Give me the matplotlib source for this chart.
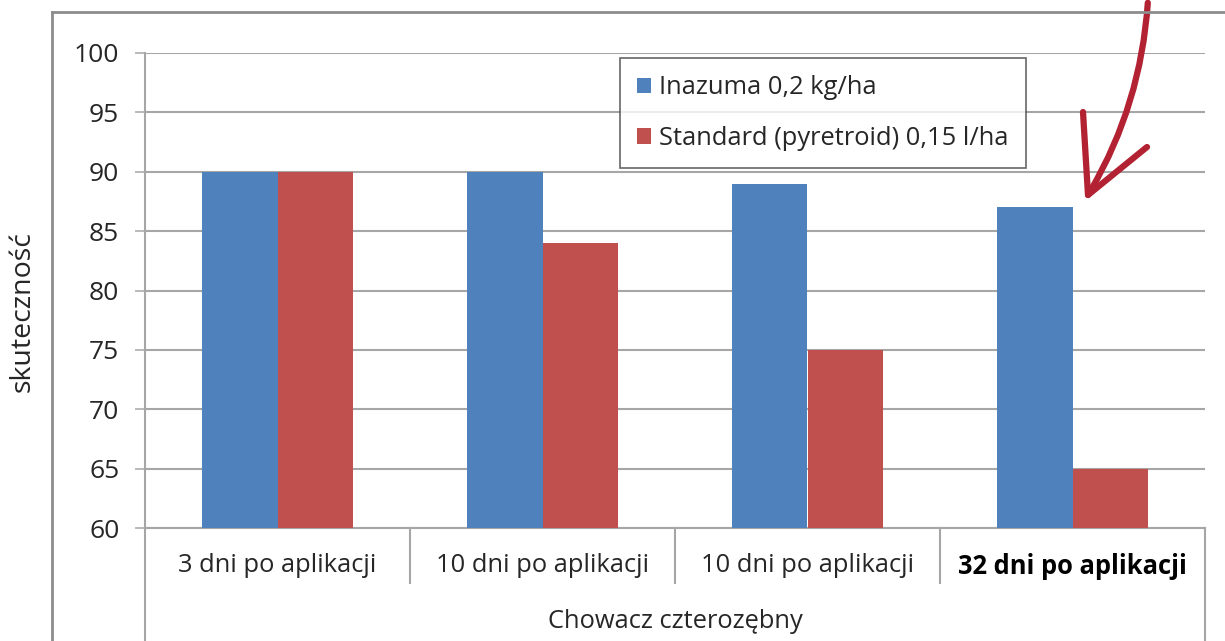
import numpy as np
import matplotlib.pyplot as plt
from matplotlib.lines import Line2D
from matplotlib.patches import FancyArrowPatch
import matplotlib.transforms as mtransforms

plt.rcParams['font.family'] = ['Open Sans', 'DejaVu Sans']

# dane
categories = ["3 dni po aplikacji", "10 dni po aplikacji", "10 dni po aplikacji", "32 dni po aplikacji"]
group_label = "Chowacz czterozębny"
inazuma = [90, 90, 89, 87]
standard = [90, 84, 75, 65]
series_names = ["Inazuma 0,2 kg/ha", "Standard (pyretroid) 0,15 l/ha"]
yticks = [60, 65, 70, 75, 80, 85, 90, 95, 100]

blue = "#4F81BD"
red = "#C0504D"
grid_col = "#A6A6A6"
text_col = "#262626"

W, H = 1225, 641
fig = plt.figure(figsize=(W / 100, H / 100), dpi=100)
ax = fig.add_axes([145 / W, 1 - 528 / H, (1205 - 145) / W, (528 - 53) / H])

x = np.arange(len(categories))
bw = 0.285
ax.bar(x - bw / 2, inazuma, bw, color=blue, label=series_names[0], zorder=3)
ax.bar(x + bw / 2, standard, bw, color=red, label=series_names[1], zorder=3)

ax.set_xlim(-0.5, len(categories) - 0.5)
ax.set_ylim(60, 100)
ax.set_yticks(yticks)
ax.tick_params(axis='y', length=7.5, width=1.1, color=grid_col, labelsize=19,
               labelcolor=text_col, pad=11)
ax.yaxis.grid(True, color=grid_col, linewidth=1.5, zorder=0)
ax.set_axisbelow(True)

ax.set_xticks(x)
ax.set_xticklabels(categories, fontsize=18.4, color=text_col)
ax.get_xticklabels()[-1].set_fontweight('bold')
ax.get_xticklabels()[-1].set_color('black')
ax.tick_params(axis='x', length=0, pad=18)

for s in ['top', 'right']:
    ax.spines[s].set_visible(False)
ax.spines['left'].set_color(grid_col)
ax.spines['bottom'].set_color(grid_col)
ax.spines['left'].set_linewidth(1.5)
ax.spines['bottom'].set_linewidth(1.5)

# separatory kategorii
trans = mtransforms.blended_transform_factory(ax.transData, ax.transAxes)
for b in np.arange(0.5, len(categories) - 1, 1.0):
    ax.add_line(Line2D([b, b], [0, -55 / 475], transform=trans, color=grid_col,
                       linewidth=1.5, clip_on=False))
ax.add_line(Line2D([-0.5, -0.5], [0, -120 / 475], transform=trans, color=grid_col,
                   linewidth=1.5, clip_on=False))
ax.add_line(Line2D([len(categories) - 0.5] * 2, [0, -120 / 475], transform=trans,
                   color=grid_col, linewidth=1.5, clip_on=False))

ax.text(0.5, -94 / 475, group_label, transform=ax.transAxes, ha='center', va='center',
        fontsize=18.4, color=text_col)

ax.set_ylabel("skuteczność", fontsize=20.5, color=text_col)
ax.yaxis.set_label_coords(-0.102, 0.455)

# ramka wykresu
fig.add_artist(Line2D([52 / W, 52 / W], [0, 1 - 12 / H], color="#8C8C8C", linewidth=2))
fig.add_artist(Line2D([52 / W, 1], [1 - 12 / H, 1 - 12 / H], color="#8C8C8C", linewidth=2))

leg = ax.legend(loc='upper left', bbox_to_anchor=((620 - 145) / 1060, 1 - 5 / 475),
                frameon=True, fancybox=False, fontsize=18.4, handlelength=0.55,
                handleheight=0.55, handletextpad=0.3, labelspacing=1.0,
                borderpad=0.68, borderaxespad=0)
leg.get_frame().set_edgecolor("#404040")
leg.get_frame().set_linewidth(1.2)
for t in leg.get_texts():
    t.set_color(text_col)

# strzałka
arrow = FancyArrowPatch((1148 / W, 1.0), (1088 / W, 1 - 195 / H),
                        transform=fig.transFigure, connectionstyle="arc3,rad=-0.12",
                        arrowstyle="-|>,head_length=0", color="#B22232", linewidth=4.5)
fig.add_artist(arrow)
tip = (1088 / W, 1 - 195 / H)
for end in [(1083 / W, 1 - 112 / H), (1147 / W, 1 - 147 / H)]:
    fig.add_artist(Line2D([tip[0], end[0]], [tip[1], end[1]], color="#B22232",
                          linewidth=4.5, solid_capstyle='round'))

fig.savefig("out.png", dpi=100)
